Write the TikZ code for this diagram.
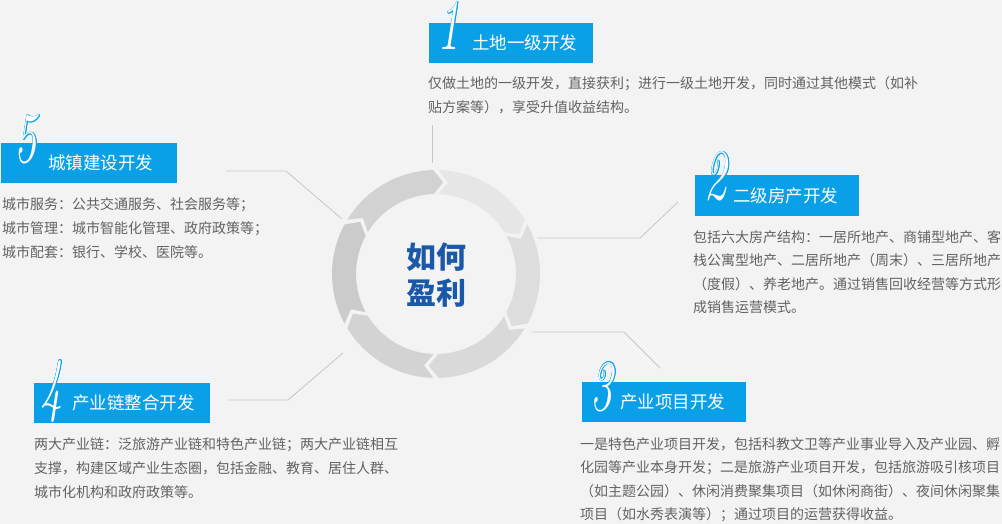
\documentclass[tikz,border=0pt]{standalone}
\usepackage{fontspec}
\newfontfamily\cjk{Noto Sans CJK SC}
\definecolor{bg}{HTML}{F3F3F3}
\definecolor{txt}{HTML}{626262}
\definecolor{tb}{HTML}{0AA0E8}
\definecolor{ctr}{HTML}{1B58A8}
\definecolor{ln}{HTML}{C6C6C6}
\definecolor{sega}{HTML}{D2D2D2}
\definecolor{segb}{HTML}{E6E6E6}
\definecolor{segc}{HTML}{DDDDDD}
\definecolor{segd}{HTML}{D9D9D9}
\definecolor{sege}{HTML}{D3D3D3}
\definecolor{segf}{HTML}{CBCBCB}
\tikzset{
  body/.style={anchor=west, inner sep=0pt, text=txt, font=\cjk\fontsize{14}{16}\selectfont},
  ttl/.style={anchor=west, inner sep=0pt, text=white, font=\cjk\fontsize{17.5}{20}\selectfont},
  tbox/.style={anchor=north west, fill=tb, inner sep=0pt, minimum height=40pt},
  dig/.style={anchor=base, inner sep=0pt, font=\fontsize{72}{72}\selectfont\itshape},
  conn/.style={draw=ln, line width=0.8pt}
}
\newcommand\bigdigit[4]{%
  \foreach \dx/\dy [count=\k] in {0.7/0,-0.7/0,0/0.7,0/-0.7,0.5/0.5,-0.5/0.5,0.5/-0.5,-0.5/-0.5}{
    \node[dig, text=tb] (#1o\k) at ([shift={(\dx,\dy)}]#2,#3) {\scalebox{0.62}[1]{#4}};}
  \node[dig, text=white] (#1) at (#2,#3) {\scalebox{0.62}[1]{#4}};}
\begin{document}
\begin{tikzpicture}[x=1pt,y=-1pt]
\useasboundingbox (0,0) rectangle (1002,524);
\fill[bg] (0,0) rectangle (1002,524);

% ring
\begin{scope}[shift={(436,274)}, yscale=-1]
 \foreach \s/\c in {150/sega, 90/segb, 30/segc, -30/segd, -90/sege, -150/segf} {
   \pgfmathsetmacro\a{\s-1.5}
   \pgfmathsetmacro\b{\s-60+1.5}
   \fill[\c] (\a:104) arc[start angle=\a, end angle=\b, radius=104]
     -- ({\b-6}:92) -- (\b:80) arc[start angle=\b, end angle=\a, radius=80]
     -- ({\a-6}:92) -- cycle;
 }
\end{scope}
\node[font=\cjk\bfseries\fontsize{30}{36}\selectfont, text=ctr, align=center, inner sep=0pt] (ctext) at (436,275) {如何\\盈利};

% connectors
\coordinate (l1a) at (432,125); \coordinate (l1b) at (432,163);
\coordinate (l5a) at (226,171); \coordinate (l5b) at (286,171); \coordinate (l5c) at (342,219);
\coordinate (l2a) at (537,238); \coordinate (l2b) at (640,238); \coordinate (l2c) at (678,202);
\coordinate (l3a) at (532,332); \coordinate (l3b) at (624,332); \coordinate (l3c) at (660,368);
\coordinate (l4a) at (228,400); \coordinate (l4b) at (288,400); \coordinate (l4c) at (343,353);
\draw[conn] (l1a) -- (l1b);
\draw[conn] (l5a) -- (l5b) -- (l5c);
\draw[conn] (l2a) -- (l2b) -- (l2c);
\draw[conn] (l3a) -- (l3b) -- (l3c);
\draw[conn] (l4a) -- (l4b) -- (l4c);

% title boxes
\node[tbox, minimum width=164pt] (b1) at (429,23) {};
\node[tbox, minimum width=176pt] (b5) at (1,143) {};
\node[tbox, minimum width=164pt, minimum height=41pt] (b2) at (695,175) {};
\node[tbox, minimum width=176pt] (b4) at (34,383) {};
\node[tbox, minimum width=164pt] (b3) at (582,382) {};

\bigdigit{d1}{449}{50}{1}
\bigdigit{d5}{26}{163}{5}
\bigdigit{d2}{716}{200}{2}
\bigdigit{d4}{52}{408}{4}
\bigdigit{d3}{602}{410}{3}

\node[ttl] (h1) at (472,43) {土地一级开发};
\node[ttl] (h5) at (48,163) {城镇建设开发};
\node[ttl] (h2) at (733,195.5) {二级房产开发};
\node[ttl] (h4) at (72,403) {产业链整合开发};
\node[ttl] (h3) at (620,402) {产业项目开发};

% body texts
\node[body] (t1a) at (428,84) {仅做土地的一级开发，直接获利；进行一级土地开发，同时通过其他模式（如补};
\node[body] (t1b) at (428,107.5) {贴方案等），享受升值收益结构。};

\node[body] (t5a) at (2,205) {城市服务：公共交通服务、社会服务等；};
\node[body] (t5b) at (2,228.5) {城市管理：城市智能化管理、政府政策等；};
\node[body] (t5c) at (2,252) {城市配套：银行、学校、医院等。};

\node[body] (t2a) at (693,237) {包括六大房产结构：一居所地产、商铺型地产、客};
\node[body] (t2b) at (693,260.5) {栈公寓型地产、二居所地产（周末）、三居所地产};
\node[body] (t2c) at (693,284) {（度假）、养老地产。通过销售回收经营等方式形};
\node[body] (t2d) at (693,307.5) {成销售运营模式。};

\node[body] (t4a) at (34,445) {两大产业链：泛旅游产业链和特色产业链；两大产业链相互};
\node[body] (t4b) at (34,468.5) {支撑，构建区域产业生态圈，包括金融、教育、居住人群、};
\node[body] (t4c) at (34,492) {城市化机构和政府政策等。};

\node[body] (t3a) at (580,444) {一是特色产业项目开发，包括科教文卫等产业事业导入及产业园、孵};
\node[body] (t3b) at (580,467.5) {化园等产业本身开发；二是旅游产业项目开发，包括旅游吸引核项目};
\node[body] (t3c) at (580,491) {（如主题公园）、休闲消费聚集项目（如休闲商街）、夜间休闲聚集};
\node[body] (t3d) at (580,514.5) {项目（如水秀表演等）；通过项目的运营获得收益。};
\end{tikzpicture}
\end{document}
